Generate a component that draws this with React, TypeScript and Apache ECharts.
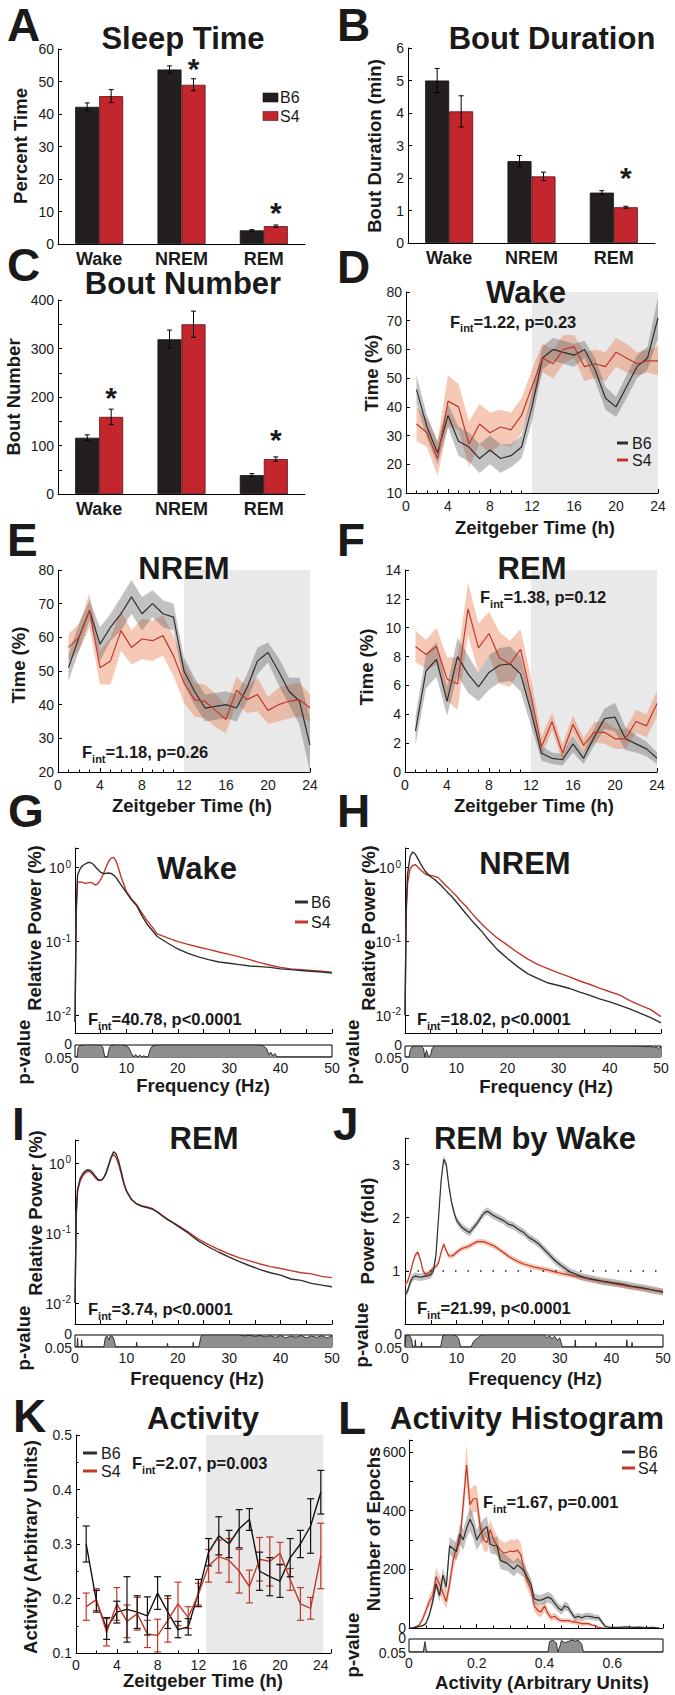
import React, { useEffect, useRef } from 'react';
import * as echarts from 'echarts';

const FONT = '"Liberation Sans", Arial, Helvetica, sans-serif';
const INK = '#1a1a1a';
const BAR_B6 = '#231f20';
const BAR_S4 = '#c4262e';
const LINE_B6 = '#2e2e2e';
const LINE_S4 = '#c0392b';
const BAND_B6 = 'rgba(95,95,95,0.38)';
const BAND_S4 = 'rgba(233,125,80,0.42)';
const SHADE = '#e9e9e9';
const STRIP_FILL = '#8f8f8f';
const TICK_FS = 14;

// ---------- A / B / C : bar charts ----------
const stageCats = ['Wake', 'NREM', 'REM'];
const sleepB6 = [42.2, 53.7, 4.2];
const sleepB6Se = [1.2, 1.1, 0.2];
const sleepS4 = [45.5, 49.0, 5.5];
const sleepS4Se = [2.0, 1.85, 0.35];
const sleepStars = [[1, 55.7], [2, 11.5]];
const durB6 = [5.0, 2.52, 1.55];
const durB6Se = [0.37, 0.17, 0.06];
const durS4 = [4.05, 2.05, 1.1];
const durS4Se = [0.48, 0.13, 0.03];
const durStars = [[2, 2.19]];
const numB6 = [116, 319, 39];
const numB6Se = [6, 19, 3];
const numS4 = [159, 350, 72];
const numS4Se = [16, 27, 4.5];
const numStars = [[0, 211], [2, 125]];

// ---------- D / E / F : hourly time courses ----------
const hours = [1, 2, 3, 4, 5, 6, 7, 8, 9, 10, 11, 12, 13, 14, 15, 16, 17, 18, 19, 20, 21, 22, 23, 24];
const wakeB6 = [46, 33, 24, 37, 28, 26, 22, 25, 22, 23, 26, 40, 57, 60, 59, 58, 60, 53, 43, 40, 47, 54, 57, 71];
const wakeB6Se = [5, 4, 4, 4, 5, 5, 5, 5, 5, 4, 4, 5, 4, 4, 4, 4, 3, 4, 4, 3.5, 4, 4, 4, 7];
const wakeS4 = [34, 31, 22, 42, 40, 27, 34, 31, 33, 32, 37, 47, 57, 55, 60, 61, 54, 55, 54, 59, 57, 55, 56, 56];
const wakeS4Se = [6, 5, 6, 9, 8, 8, 7, 7, 6, 6, 6, 6, 5, 5, 5, 4, 5, 5, 5, 5, 5, 4, 4, 5];
const nremB6 = [51, 60, 68, 58, 63, 67, 72, 67, 70, 67, 66, 50, 44, 39, 39.5, 40, 39, 45, 53, 55.5, 50, 44, 41, 28];
const nremB6Se = [4, 4, 3, 5, 4, 5, 5, 5, 4, 4, 4, 4, 4, 4, 4, 4, 4, 4, 4, 3, 4, 4, 7, 8];
const nremS4 = [57, 60, 68, 51, 53, 62, 57, 59.5, 59, 60.5, 54.5, 46.5, 41.5, 41, 38.3, 35.6, 44.3, 41.5, 43, 38.3, 40, 41, 41.5, 39];
const nremS4Se = [4, 4, 5, 5, 7, 6, 5, 6, 6, 6, 6, 6, 5, 5, 5, 4, 4, 4, 5, 4, 5, 5, 5, 4];
const remB6 = [2.85, 7.0, 7.8, 4.9, 8.0, 6.8, 5.9, 6.9, 7.4, 7.5, 6.8, 4.2, 1.3, 0.95, 0.85, 1.95, 0.95, 2.4, 3.7, 3.8, 2.3, 1.95, 1.6, 0.95];
const remB6Se = [1.0, 1.2, 1.2, 1.0, 1.3, 1.3, 1.0, 1.2, 1.2, 1.2, 1.2, 1.0, 0.5, 0.4, 0.4, 0.6, 0.4, 0.6, 0.7, 1.0, 0.8, 0.6, 0.5, 0.4];
const remS4 = [8.7, 8.15, 8.7, 6.45, 6.1, 11.3, 8.6, 9.6, 7.9, 7.5, 8.5, 5.3, 1.75, 3.5, 1.3, 3.3, 1.85, 2.75, 2.75, 2.3, 2.3, 3.5, 3.2, 4.75];
const remS4Se = [1.1, 1.0, 1.3, 1.5, 1.8, 1.8, 1.7, 1.5, 1.8, 1.6, 1.4, 1.2, 0.7, 0.6, 0.6, 0.6, 0.5, 0.7, 0.8, 0.7, 0.7, 0.8, 0.8, 0.9];

// ---------- G / H : spectra ----------
const specFreq = [0, 0.25, 0.5, 1, 1.5, 2, 2.5, 3, 3.5, 4, 4.5, 5, 5.5, 6, 6.5, 7, 7.5, 8, 8.5, 9, 10, 11, 12, 13, 14, 15, 16, 18, 20, 22, 24, 26, 28, 30, 32, 34, 36, 38, 40, 42, 44, 46, 48, 50];
const wakePowB6 = [0.008, 0.3, 0.78, 0.95, 1.05, 1.1, 1.15, 1.15, 1.1, 1.0, 0.92, 0.85, 0.82, 0.82, 0.83, 0.82, 0.78, 0.72, 0.64, 0.57, 0.45, 0.36, 0.3, 0.22, 0.17, 0.14, 0.115, 0.094, 0.078, 0.068, 0.061, 0.056, 0.052, 0.05, 0.048, 0.046, 0.045, 0.044, 0.042, 0.041, 0.04, 0.039, 0.038, 0.037];
const wakePowS4 = [0.008, 0.25, 0.62, 0.63, 0.62, 0.6, 0.61, 0.62, 0.6, 0.57, 0.6, 0.68, 0.8, 0.98, 1.18, 1.32, 1.35, 1.2, 0.95, 0.72, 0.47, 0.37, 0.31, 0.24, 0.19, 0.155, 0.125, 0.11, 0.098, 0.09, 0.083, 0.077, 0.071, 0.066, 0.061, 0.056, 0.051, 0.047, 0.044, 0.042, 0.041, 0.04, 0.039, 0.038];
const nremPowB6 = [0.01, 0.3, 0.8, 1.4, 1.6, 1.5, 1.3, 1.12, 0.98, 0.87, 0.8, 0.74, 0.7, 0.66, 0.61, 0.57, 0.52, 0.48, 0.44, 0.41, 0.34, 0.28, 0.23, 0.19, 0.16, 0.135, 0.11, 0.077, 0.058, 0.045, 0.036, 0.031, 0.027, 0.025, 0.023, 0.0205, 0.0185, 0.0165, 0.015, 0.0135, 0.012, 0.0105, 0.0092, 0.0078];
const nremPowS4 = [0.01, 0.25, 0.6, 0.95, 1.05, 1.08, 1.0, 0.92, 0.86, 0.8, 0.78, 0.77, 0.76, 0.74, 0.72, 0.66, 0.61, 0.56, 0.52, 0.48, 0.41, 0.34, 0.29, 0.24, 0.2, 0.17, 0.145, 0.11, 0.088, 0.07, 0.057, 0.048, 0.042, 0.037, 0.033, 0.029, 0.026, 0.023, 0.0206, 0.0185, 0.0155, 0.0135, 0.0118, 0.0095];

// ---------- I : REM spectra ----------
const remFreq = [0, 0.25, 0.5, 1, 1.5, 2, 2.5, 3, 3.5, 4, 4.5, 5, 5.5, 6, 6.5, 7, 7.5, 8, 8.5, 9, 9.5, 10, 11, 12, 13, 14, 15, 16, 17, 18, 19, 20, 22, 24, 26, 28, 30, 32, 34, 36, 38, 40, 42, 44, 46, 48, 50];
const remPowB6 = [0.01, 0.2, 0.42, 0.6, 0.7, 0.77, 0.8, 0.78, 0.72, 0.64, 0.58, 0.57, 0.6, 0.7, 0.9, 1.2, 1.45, 1.35, 1.05, 0.75, 0.52, 0.4, 0.3, 0.26, 0.24, 0.23, 0.22, 0.2, 0.175, 0.155, 0.14, 0.125, 0.1, 0.077, 0.063, 0.053, 0.045, 0.039, 0.034, 0.03, 0.027, 0.025, 0.022, 0.021, 0.019, 0.018, 0.017];
const remPowS4 = [0.01, 0.18, 0.4, 0.55, 0.65, 0.72, 0.76, 0.74, 0.68, 0.61, 0.56, 0.56, 0.6, 0.72, 0.92, 1.18, 1.32, 1.2, 0.95, 0.7, 0.5, 0.4, 0.3, 0.26, 0.245, 0.235, 0.225, 0.2, 0.178, 0.158, 0.143, 0.128, 0.104, 0.082, 0.068, 0.058, 0.05, 0.044, 0.04, 0.036, 0.033, 0.031, 0.029, 0.027, 0.026, 0.024, 0.023];

// ---------- J : REM by Wake ----------
const foldFreq = [0, 0.5, 1, 1.5, 2, 2.5, 3, 3.5, 4, 4.5, 5, 5.5, 6, 6.5, 7, 7.5, 8, 8.5, 9, 9.5, 10, 11, 12, 12.5, 13, 14, 15, 15.5, 16, 17, 18, 19, 20, 21, 22, 23, 24, 25, 26, 27, 28, 29, 30, 31, 32, 33, 34, 35, 36, 37, 38, 40, 42, 44, 46, 48, 50];
const foldB6 = [0.55, 0.62, 0.78, 0.88, 0.9, 0.89, 0.88, 0.89, 0.9, 0.91, 0.93, 1.0, 1.3, 2.0, 2.7, 3.1, 3.0, 2.6, 2.3, 2.1, 1.95, 1.82, 1.75, 1.72, 1.78, 1.9, 2.05, 2.1, 2.12, 2.05, 2.0, 1.95, 1.88, 1.85, 1.78, 1.72, 1.63, 1.57, 1.5, 1.4, 1.3, 1.2, 1.12, 1.05, 0.98, 0.94, 0.9, 0.87, 0.85, 0.83, 0.81, 0.78, 0.75, 0.71, 0.68, 0.64, 0.6];
const foldS4 = [0.75, 0.8, 0.95, 1.15, 1.3, 1.35, 1.2, 1.0, 0.93, 0.95, 1.0, 1.05, 1.08, 1.15, 1.35, 1.5, 1.38, 1.28, 1.28, 1.3, 1.35, 1.42, 1.45, 1.47, 1.5, 1.55, 1.55, 1.54, 1.52, 1.48, 1.42, 1.35, 1.28, 1.22, 1.17, 1.13, 1.1, 1.07, 1.05, 1.03, 1.01, 0.98, 0.96, 0.94, 0.92, 0.9, 0.88, 0.86, 0.84, 0.82, 0.8, 0.77, 0.73, 0.7, 0.67, 0.64, 0.61];
const FOLD_B6_SE = 0.07;
const FOLD_S4_SE = 0.05;

// ---------- p-value strips ----------
const stripTicks = ['0', '0.05'];
const gStripF = [0, 0.4, 0.6, 1, 2, 3, 4, 5, 5.4, 5.8, 6.3, 6.7, 7, 8, 9, 10, 10.5, 11, 11.4, 11.8, 12.2, 12.6, 13, 13.4, 13.8, 14.2, 14.6, 15, 16, 20, 25, 30, 35, 36.5, 37.3, 37.7, 38.1, 38.5, 38.9, 39.3, 40, 50];
const gStripP = [0.05, 0.05, 0.01, 0.002, 0, 0, 0, 0.001, 0.008, 0.05, 0.05, 0.01, 0.002, 0, 0, 0.003, 0.012, 0.035, 0.05, 0.04, 0.05, 0.042, 0.05, 0.045, 0.05, 0.05, 0.02, 0.005, 0, 0, 0, 0, 0, 0.002, 0.015, 0.04, 0.03, 0.045, 0.035, 0.05, 0.05, 0.05];
const hStripF = [0, 0.8, 1.0, 1.3, 1.8, 2.5, 3.2, 3.6, 3.9, 4.2, 4.6, 5.0, 5.3, 5.6, 6, 10, 20, 30, 40, 46, 47, 48, 48.5, 49, 49.5, 50];
const hStripP = [0.05, 0.05, 0.02, 0.006, 0.001, 0, 0.002, 0.01, 0.05, 0.02, 0.05, 0.04, 0.012, 0.002, 0, 0, 0, 0, 0, 0.001, 0.003, 0.002, 0.008, 0.004, 0.01, 0.006];
const iStripF = [0, 0.4, 0.5, 0.6, 1.2, 1.3, 1.4, 5.6, 5.9, 6.2, 6.6, 6.9, 7.3, 7.6, 7.9, 11.9, 12.0, 12.1, 17.9, 18.0, 18.1, 22.9, 23.0, 23.1, 24.1, 24.5, 25, 32, 33, 34, 35, 36, 37, 38, 39, 40, 41, 42, 43, 44, 45, 46, 47, 48, 49, 50];
const iStripP = [0.05, 0.05, 0.012, 0.05, 0.05, 0.02, 0.05, 0.05, 0.01, 0.004, 0.02, 0.003, 0.006, 0.02, 0.05, 0.05, 0.03, 0.05, 0.05, 0.035, 0.05, 0.05, 0.03, 0.05, 0.05, 0.006, 0, 0, 0.004, 0.001, 0.006, 0.002, 0.008, 0.003, 0.01, 0.002, 0.012, 0.004, 0.009, 0.002, 0.012, 0.004, 0.01, 0.003, 0.012, 0.004];
const jStripF = [0, 0.2, 0.6, 1.0, 1.3, 1.5, 1.9, 2.0, 2.1, 3.1, 3.2, 3.3, 6.9, 7.3, 8, 9.5, 10, 10.4, 10.8, 12.8, 13.2, 13.6, 14.1, 14.6, 15, 20, 27, 27.5, 28, 28.5, 29, 29.5, 30, 30.5, 32.9, 33.0, 33.1, 36.9, 37.0, 37.1, 42.9, 43.0, 43.1, 43.9, 44.0, 44.1, 50];
const jStripP = [0.05, 0.004, 0.001, 0.006, 0.02, 0.05, 0.05, 0.02, 0.05, 0.05, 0.03, 0.05, 0.05, 0.004, 0, 0, 0.004, 0.015, 0.05, 0.05, 0.03, 0.02, 0.012, 0.004, 0, 0, 0, 0.012, 0.003, 0.016, 0.005, 0.022, 0.012, 0.05, 0.05, 0.02, 0.05, 0.05, 0.03, 0.05, 0.05, 0.02, 0.05, 0.05, 0.03, 0.05, 0.05];
const lStripX = [0, 0.042, 0.047, 0.052, 0.41, 0.415, 0.425, 0.435, 0.44, 0.445, 0.45, 0.46, 0.47, 0.48, 0.49, 0.5, 0.51, 0.515, 0.75];
const lStripP = [0.05, 0.05, 0.01, 0.05, 0.05, 0.01, 0.004, 0.015, 0.05, 0.03, 0.006, 0.014, 0.01, 0.004, 0.008, 0.005, 0.02, 0.05, 0.05];

// ---------- K : activity ----------
const actB6 = [0.30, 0.195, 0.145, 0.175, 0.18, 0.175, 0.168, 0.21, 0.175, 0.143, 0.148, 0.21, 0.285, 0.315, 0.30, 0.328, 0.345, 0.25, 0.24, 0.232, 0.275, 0.30, 0.333, 0.395];
const actB6Se = [0.033, 0.02, 0.02, 0.02, 0.06, 0.03, 0.035, 0.03, 0.03, 0.015, 0.015, 0.025, 0.025, 0.035, 0.025, 0.035, 0.02, 0.035, 0.035, 0.03, 0.035, 0.025, 0.05, 0.04];
const actS4 = [0.185, 0.198, 0.138, 0.19, 0.158, 0.172, 0.135, 0.132, 0.16, 0.19, 0.165, 0.208, 0.26, 0.277, 0.27, 0.25, 0.222, 0.272, 0.268, 0.283, 0.235, 0.19, 0.182, 0.278];
const actS4Se = [0.025, 0.02, 0.025, 0.03, 0.03, 0.03, 0.025, 0.03, 0.04, 0.04, 0.02, 0.02, 0.03, 0.03, 0.04, 0.04, 0.03, 0.04, 0.045, 0.02, 0.02, 0.03, 0.02, 0.06];

// ---------- L : activity histogram ----------
const histX = [0, 0.01, 0.02, 0.03, 0.04, 0.05, 0.06, 0.07, 0.08, 0.09, 0.1, 0.11, 0.12, 0.13, 0.14, 0.15, 0.16, 0.17, 0.18, 0.19, 0.2, 0.21, 0.22, 0.23, 0.24, 0.25, 0.26, 0.27, 0.28, 0.29, 0.3, 0.31, 0.32, 0.33, 0.34, 0.35, 0.36, 0.37, 0.38, 0.39, 0.4, 0.41, 0.42, 0.43, 0.44, 0.45, 0.46, 0.47, 0.48, 0.49, 0.5, 0.51, 0.52, 0.53, 0.54, 0.55, 0.56, 0.57, 0.58, 0.59, 0.6, 0.62, 0.64, 0.66, 0.68, 0.7, 0.72, 0.74];
const histB6 = [0, 0, 2, 5, 8, 15, 45, 90, 150, 110, 180, 140, 280, 270, 260, 320, 300, 340, 370, 345, 300, 320, 335, 345, 285, 280, 280, 230, 225, 220, 210, 200, 215, 205, 195, 170, 150, 100, 95, 95, 100, 105, 100, 85, 70, 60, 75, 70, 50, 35, 40, 35, 40, 40, 38, 35, 35, 20, 5, 3, 2, 2, 4, 2, 3, 1, 2, 0];
const histB6Se = [0, 1, 2, 3, 4, 6, 10, 15, 20, 20, 25, 25, 30, 30, 30, 35, 35, 35, 40, 40, 35, 35, 35, 35, 30, 30, 30, 28, 28, 25, 25, 25, 25, 25, 22, 22, 20, 18, 18, 18, 18, 18, 18, 16, 15, 15, 15, 14, 12, 12, 12, 12, 12, 12, 12, 10, 10, 8, 5, 3, 2, 2, 2, 2, 2, 1, 1, 0];
const histS4 = [0, 0, 5, 10, 30, 60, 90, 110, 175, 150, 120, 90, 150, 230, 270, 290, 420, 555, 420, 440, 440, 345, 300, 290, 335, 300, 280, 265, 255, 258, 262, 260, 265, 250, 195, 160, 130, 75, 60, 55, 75, 50, 35, 40, 30, 25, 25, 25, 22, 20, 18, 15, 15, 15, 10, 8, 2, 0, 0];
const histS4Se = [0, 1, 3, 5, 10, 15, 20, 25, 30, 30, 30, 25, 30, 35, 35, 35, 45, 70, 50, 45, 45, 40, 35, 35, 35, 35, 35, 35, 35, 35, 40, 40, 40, 40, 35, 30, 25, 20, 18, 18, 20, 15, 12, 12, 10, 8, 8, 8, 8, 8, 8, 8, 8, 6, 5, 4, 2, 1, 0];

function buildOption(): any {
  const grid: any[] = [];
  const xAxis: any[] = [];
  const yAxis: any[] = [];
  const series: any[] = [];
  const graphic: any[] = [];

  const axLine = { show: true, onZero: false, lineStyle: { color: '#000', width: 1 } };
  const axTick = { show: true, inside: true, length: 4, lineStyle: { color: '#000', width: 1 } };
  const minorTick = (n: number) => ({ show: true, splitNumber: n, length: 2.5, lineStyle: { color: '#000', width: 1 } });
  const lab = (extra: any = {}) => ({ color: INK, fontSize: TICK_FS, fontFamily: FONT, ...extra });
  const noSplit = { show: false };
  const on = (gi: number) => ({ xAxisIndex: gi, yAxisIndex: gi });

  const T = (x: number, y: number, text: string, size: number, weight = 'normal', align = 'left', rotation = 0) => ({
    type: 'text', x, y, rotation, silent: true, z: 100,
    style: { text, fontSize: size, fontWeight: weight, fontFamily: FONT, fill: INK, align, verticalAlign: 'middle',
      textAlign: align, textVerticalAlign: 'middle' },
  });

  const addGrid = (left: number, top: number, width: number, height: number, box = false) => {
    grid.push({ left, top, width, height, show: box, borderColor: '#000', borderWidth: 1, backgroundColor: 'transparent' });
    return grid.length - 1;
  };

  const lineS = (gi: number, xs: number[], ys: number[], color: string, width = 1.2, extra: any = {}) => ({
    type: 'line', ...on(gi), data: xs.map((x, i) => [x, ys[i]]), showSymbol: false, symbol: 'none',
    lineStyle: { color, width }, itemStyle: { color }, silent: true, z: 4, clip: true, ...extra,
  });

  const bandS = (gi: number, xs: number[], lo: number[], hi: number[], color: string) => {
    const rows = xs.map((x, i) => [x, lo[i], hi[i]]);
    return {
      type: 'custom', ...on(gi), z: 2, silent: true, clip: true,
      data: rows, encode: { x: 0, y: [1, 2] },
      renderItem: (params: any, api: any) => {
        if (params.dataIndex !== 0) return null;
        const up = rows.map((r) => api.coord([r[0], r[2]]));
        const dn = rows.slice().reverse().map((r) => api.coord([r[0], r[1]]));
        return { type: 'polygon', shape: { points: up.concat(dn) }, style: { fill: color } };
      },
    };
  };

  const shadeArea = (a: number, b: number) => ({
    silent: true, itemStyle: { color: SHADE }, label: { show: false },
    data: [[{ xAxis: a }, { xAxis: b }]],
  });

  const barErr = (gi: number, vals: number[], ses: number[], dx: number) => ({
    type: 'custom', ...on(gi), z: 5, silent: true,
    data: vals.map((v, i) => [i, v, ses[i]]), encode: { x: 0, y: 1 },
    renderItem: (p: any, api: any) => {
      const c = api.value(0), m = api.value(1), s = api.value(2);
      const a = api.coord([c, m + s]);
      const b = api.coord([c, m - s]);
      const x = a[0] + dx;
      const st = { stroke: '#000', lineWidth: 1 };
      return {
        type: 'group', children: [
          { type: 'line', shape: { x1: x, y1: a[1], x2: x, y2: b[1] }, style: st },
          { type: 'line', shape: { x1: x - 2.5, y1: a[1], x2: x + 2.5, y2: a[1] }, style: st },
          { type: 'line', shape: { x1: x - 2.5, y1: b[1], x2: x + 2.5, y2: b[1] }, style: st },
        ],
      };
    },
  });

  const starS = (gi: number, stars: number[][]) => ({
    type: 'custom', ...on(gi), z: 6, silent: true,
    data: stars, encode: { x: 0, y: 1 },
    renderItem: (p: any, api: any) => {
      const pt = api.coord([api.value(0), api.value(1)]);
      return {
        type: 'text', x: pt[0] + 12, y: pt[1] + 6,
        style: { text: '*', fontSize: 30, fontWeight: 'bold', fontFamily: FONT, fill: INK, align: 'center', verticalAlign: 'middle' },
      };
    },
  });

  const errBars = (gi: number, xs: number[], ys: number[], se: number[], color: string) => ({
    type: 'custom', ...on(gi), z: 5, silent: true,
    data: xs.map((x, i) => [x, ys[i], se[i]]), encode: { x: 0, y: 1 },
    renderItem: (p: any, api: any) => {
      const x = api.value(0), m = api.value(1), s = api.value(2);
      const a = api.coord([x, m + s]);
      const b = api.coord([x, m - s]);
      const st = { stroke: color, lineWidth: 1.2 };
      return {
        type: 'group', children: [
          { type: 'line', shape: { x1: a[0], y1: a[1], x2: b[0], y2: b[1] }, style: st },
          { type: 'line', shape: { x1: a[0] - 3.5, y1: a[1], x2: a[0] + 3.5, y2: a[1] }, style: st },
          { type: 'line', shape: { x1: b[0] - 3.5, y1: b[1], x2: b[0] + 3.5, y2: b[1] }, style: st },
        ],
      };
    },
  });

  // ---- bar panels
  const barPanel = (gi: number, yMax: number, yInt: number, fmt: any, b6: number[], b6se: number[], s4: number[], s4se: number[], stars: number[][]) => {
    xAxis.push({ gridIndex: gi, type: 'category', data: stageCats, axisLine: axLine, axisTick: { show: false },
      axisLabel: lab({ fontSize: 18, fontWeight: 'bold', margin: 6, interval: 0 }), splitLine: noSplit });
    yAxis.push({ gridIndex: gi, type: 'value', min: 0, max: yMax, interval: yInt, axisLine: axLine, axisTick: axTick,
      axisLabel: lab({ margin: 4, formatter: fmt }), splitLine: noSplit });
    series.push({ type: 'bar', ...on(gi), data: b6, barWidth: 24, barGap: '0%', silent: true,
      itemStyle: { color: BAR_B6, borderColor: '#111', borderWidth: 0.8 } });
    series.push({ type: 'bar', ...on(gi), data: s4, barWidth: 24, barGap: '0%', silent: true,
      itemStyle: { color: BAR_S4, borderColor: '#5a1212', borderWidth: 0.8 } });
    series.push(barErr(gi, b6, b6se, -12));
    series.push(barErr(gi, s4, s4se, 12));
    series.push(starS(gi, stars));
  };

  const gA = addGrid(58, 49, 247, 195);
  barPanel(gA, 60, 10, (v: number) => String(v), sleepB6, sleepB6Se, sleepS4, sleepS4Se, sleepStars);
  const gB = addGrid(408, 48, 247, 195);
  barPanel(gB, 6, 1, (v: number) => String(v), durB6, durB6Se, durS4, durS4Se, durStars);
  const gC = addGrid(58, 300, 247, 194);
  barPanel(gC, 400, 50, (v: number) => (v % 100 === 0 ? String(v) : ''), numB6, numB6Se, numS4, numS4Se, numStars);

  // ---- hourly panels
  const timePanel = (gi: number, yMin: number, yMax: number, yInt: number, b6: number[], b6se: number[], s4: number[], s4se: number[]) => {
    xAxis.push({ gridIndex: gi, type: 'value', min: 0, max: 24, interval: 4, axisLine: axLine, axisTick: axTick,
      minorTick: minorTick(4), axisLabel: lab({ margin: 6 }), splitLine: noSplit, minorSplitLine: noSplit });
    yAxis.push({ gridIndex: gi, type: 'value', min: yMin, max: yMax, interval: yInt, axisLine: axLine, axisTick: axTick,
      axisLabel: lab({ margin: 4 }), splitLine: noSplit });
    series.push(bandS(gi, hours, s4.map((v, i) => v - s4se[i]), s4.map((v, i) => v + s4se[i]), BAND_S4));
    series.push(bandS(gi, hours, b6.map((v, i) => v - b6se[i]), b6.map((v, i) => v + b6se[i]), BAND_B6));
    series.push(lineS(gi, hours, b6, LINE_B6, 1.2, { markArea: shadeArea(12, 24) }));
    series.push(lineS(gi, hours, s4, LINE_S4, 1.2));
  };
  const gD = addGrid(406, 292, 252, 201);
  timePanel(gD, 10, 80, 10, wakeB6, wakeB6Se, wakeS4, wakeS4Se);
  const gE = addGrid(58, 570, 252, 202);
  timePanel(gE, 20, 80, 10, nremB6, nremB6Se, nremS4, nremS4Se);
  const gF = addGrid(405, 570, 252, 202);
  timePanel(gF, 0, 14, 2, remB6, remB6Se, remS4, remS4Se);

  // ---- spectral panels
  const logFmt = (v: number) => {
    const e = Math.log10(v);
    const r = Math.round(e);
    if (Math.abs(e - r) > 1e-3) return '';
    return `{b|10}{s|${r}}`;
  };
  const logLabel = lab({
    margin: 4, formatter: logFmt,
    rich: {
      b: { fontSize: TICK_FS, fontFamily: FONT, color: INK, lineHeight: 16, verticalAlign: 'bottom' },
      s: { fontSize: 10, fontFamily: FONT, color: INK, lineHeight: 10, verticalAlign: 'top', padding: [0, 0, 6, 1] },
    },
  });
  const freqX = (gi: number) => ({ gridIndex: gi, type: 'value', min: 0, max: 50, interval: 5, axisLine: axLine,
    axisTick: axTick, axisLabel: { show: false }, splitLine: noSplit });
  const specPanel = (gi: number, yMin: number, yMax: number, xs: number[], b6: number[], s4: number[]) => {
    xAxis.push(freqX(gi));
    yAxis.push({ gridIndex: gi, type: 'log', logBase: 10, min: yMin, max: yMax, axisLine: axLine, axisTick: axTick,
      axisLabel: logLabel, splitLine: noSplit, minorSplitLine: noSplit });
    series.push(lineS(gi, xs, s4, LINE_S4, 1.4));
    series.push(lineS(gi, xs, b6, LINE_B6, 1.4));
  };
  const stripPanel = (left: number, top: number, width: number, height: number, xMax: number, xInt: number, xs: number[], ps: number[], fmt: any) => {
    const gi = addGrid(left, top, width, height, true);
    xAxis.push({ gridIndex: gi, type: 'value', min: 0, max: xMax, interval: xInt, axisLine: { show: false },
      axisTick: { show: false }, axisLabel: lab({ margin: 4, formatter: fmt, showMinLabel: true }), splitLine: noSplit });
    yAxis.push({ gridIndex: gi, type: 'value', inverse: true, min: 0, max: 0.05, interval: 0.05, axisLine: { show: false },
      axisTick: { show: false }, axisLabel: { show: false }, splitLine: noSplit });
    series.push({ type: 'line', ...on(gi), data: xs.map((x, i) => [x, ps[i]]), showSymbol: false, symbol: 'none',
      lineStyle: { color: '#111', width: 0.8 }, areaStyle: { color: STRIP_FILL, opacity: 1, origin: 'end' },
      silent: true, clip: true, z: 3 });
    graphic.push(T(left - 3, top - 1, stripTicks[0], TICK_FS, 'normal', 'right'));
    graphic.push(T(left - 3, top + height + 1, stripTicks[1], TICK_FS, 'normal', 'right'));
  };
  const hzFmt = (v: number) => String(v);

  const gG = addGrid(75, 848, 257, 185);
  specPanel(gG, 0.0057, 1.81, specFreq, wakePowB6, wakePowS4);
  stripPanel(75, 1045, 257, 12, 50, 10, gStripF, gStripP, hzFmt);

  const gH = addGrid(405, 848, 256, 185);
  specPanel(gH, 0.0057, 1.81, specFreq, nremPowB6, nremPowS4);
  stripPanel(405, 1046, 256, 11, 50, 10, hStripF, hStripP, hzFmt);

  const gI = addGrid(75, 1140, 257, 184);
  specPanel(gI, 0.005, 2.13, remFreq, remPowB6, remPowS4);
  stripPanel(75, 1335, 257, 12, 50, 10, iStripF, iStripP, hzFmt);

  const gJ = addGrid(405, 1138, 258, 186);
  xAxis.push(freqX(gJ));
  yAxis.push({ gridIndex: gJ, type: 'value', min: 0, max: 3.5, interval: 1, axisLine: axLine, axisTick: axTick,
    axisLabel: lab({ margin: 5, formatter: (v: number) => (v >= 1 && v <= 3 && Number.isInteger(v) ? String(v) : '') }), splitLine: noSplit });
  series.push(bandS(gJ, foldFreq, foldS4.map((v) => v - FOLD_S4_SE), foldS4.map((v) => v + FOLD_S4_SE), BAND_S4));
  series.push(bandS(gJ, foldFreq, foldB6.map((v) => v - FOLD_B6_SE), foldB6.map((v) => v + FOLD_B6_SE), BAND_B6));
  series.push(lineS(gJ, foldFreq, foldS4, LINE_S4, 1.2));
  series.push(lineS(gJ, foldFreq, foldB6, LINE_B6, 1.2, {
    markLine: { silent: true, symbol: 'none', label: { show: false },
      lineStyle: { type: [1.5, 11], color: '#222', width: 1.5 }, data: [{ yAxis: 1 }] },
  }));
  stripPanel(405, 1335, 258, 12, 50, 10, jStripF, jStripP, hzFmt);

  // ---- K activity
  const gK = addGrid(76, 1435, 255, 218);
  xAxis.push({ gridIndex: gK, type: 'value', min: 0, max: 25, interval: 4, axisLine: axLine, axisTick: axTick,
    minorTick: minorTick(2), axisLabel: lab({ margin: 5, formatter: (v: number) => (v <= 24 ? String(v) : '') }), splitLine: noSplit, minorSplitLine: noSplit });
  yAxis.push({ gridIndex: gK, type: 'value', min: 0.1, max: 0.5, interval: 0.1, axisLine: axLine, axisTick: axTick,
    minorTick: minorTick(2), axisLabel: lab({ margin: 4 }), splitLine: noSplit, minorSplitLine: noSplit });
  series.push(lineS(gK, hours, actB6, '#111', 1.4, { markArea: shadeArea(12.75, 24.25) }));
  series.push(lineS(gK, hours, actS4, LINE_S4, 1.4));
  series.push(errBars(gK, hours, actS4, actS4Se, LINE_S4));
  series.push(errBars(gK, hours, actB6, actB6Se, '#111'));

  // ---- L histogram
  const gL = addGrid(409, 1440, 254, 188);
  xAxis.push({ gridIndex: gL, type: 'value', min: 0, max: 0.75, interval: 0.2, axisLine: axLine, axisTick: axTick,
    minorTick: minorTick(4), axisLabel: { show: false }, splitLine: noSplit, minorSplitLine: noSplit });
  yAxis.push({ gridIndex: gL, type: 'value', min: 0, max: 640, interval: 100, axisLine: axLine, axisTick: axTick,
    axisLabel: lab({ margin: 3, formatter: (v: number) => (v % 200 === 0 ? String(v) : '') }), splitLine: noSplit });
  const hx4 = histX.slice(0, histS4.length);
  series.push(bandS(gL, hx4, histS4.map((v, i) => Math.max(0, v - histS4Se[i])), histS4.map((v, i) => v + histS4Se[i]), BAND_S4));
  series.push(bandS(gL, histX, histB6.map((v, i) => Math.max(0, v - histB6Se[i])), histB6.map((v, i) => v + histB6Se[i]), BAND_B6));
  series.push(lineS(gL, hx4, histS4, LINE_S4, 1.2));
  series.push(lineS(gL, histX, histB6, LINE_B6, 1.2));
  stripPanel(409, 1639, 254, 13, 0.75, 0.2, lStripX, lStripP, (v: number) => (v > 0.7 ? '' : String(Math.round(v * 10) / 10)));

  // ---- texts
  const letters: [string, number, number][] = [
    ['A', 7, 25], ['B', 337, 25], ['C', 7, 265], ['D', 337, 267], ['E', 7, 540], ['F', 337, 540],
    ['G', 8, 811], ['H', 337, 811], ['I', 12, 1124], ['J', 333, 1124], ['K', 13, 1416], ['L', 338, 1418],
  ];
  letters.forEach(([t, x, y]) => graphic.push(T(x, y, t, 46, 'bold', 'left')));
  const titles: [string, number, number][] = [
    ['Sleep Time', 183, 38], ['Bout Duration', 552, 38], ['Bout Number', 183, 283], ['Wake', 526, 292],
    ['NREM', 184, 568], ['REM', 532, 568], ['Wake', 197, 868], ['NREM', 525, 863], ['REM', 204, 1138],
    ['REM by Wake', 535, 1138], ['Activity', 203, 1418], ['Activity Histogram', 527, 1418],
  ];
  titles.forEach(([t, x, y]) => graphic.push(T(x, y, t, 31, 'bold', 'center')));
  const yNames: [string, number, number][] = [
    ['Percent Time', 20, 146], ['Bout Duration (min)', 374, 146], ['Bout Number', 13, 397], ['Time (%)', 371, 373],
    ['Time (%)', 18, 665], ['Time (%)', 366, 667], ['Relative Power (%)', 34, 928], ['p-value', 23, 1052],
    ['Relative Power (%)', 368, 928], ['p-value', 352, 1052], ['Relative Power (%)', 35, 1213], ['p-value', 23, 1338],
    ['Power (fold)', 367, 1231], ['p-value', 361, 1335], ['Activity (Arbitrary Units)', 30, 1547],
    ['Number of Epochs', 373, 1529], ['p-value', 352, 1645],
  ];
  yNames.forEach(([t, x, y]) => graphic.push(T(x, y, t, 18.5, 'bold', 'center', Math.PI / 2)));
  const xNames: [string, number, number][] = [
    ['Zeitgeber Time (h)', 535, 527], ['Zeitgeber Time (h)', 192, 805], ['Zeitgeber Time (h)', 534, 805],
    ['Frequency (Hz)', 203, 1085], ['Frequency (Hz)', 546, 1086], ['Frequency (Hz)', 197, 1378],
    ['Frequency (Hz)', 535, 1378], ['Zeitgeber Time (h)', 203, 1680], ['Activity (Arbitrary Units)', 542, 1682],
  ];
  xNames.forEach(([t, x, y]) => graphic.push(T(x, y, t, 18.5, 'bold', 'center')));

  const annots: [string, number, number][] = [
    ['=1.22, p=0.23', 450, 321.5], ['=1.18, p=0.26', 82, 752], ['=1.38, p=0.12', 480, 597],
    ['=40.78, p<0.0001', 88, 1019], ['=18.02, p<0.0001', 417, 1019], ['=3.74, p<0.0001', 88, 1309],
    ['=21.99, p<0.0001', 417, 1308], ['=2.07, p=0.003', 132, 1463], ['=1.67, p=0.001', 483, 1502],
  ];
  annots.forEach(([t, x, y]) => graphic.push({
    type: 'text', x, y, silent: true, z: 100,
    style: {
      text: `{a|F}{b|int}{a|${t}}`, align: 'left', verticalAlign: 'middle',
      rich: {
        a: { fontSize: 16.5, fontWeight: 'bold', fontFamily: FONT, fill: INK, color: INK, lineHeight: 24 },
        b: { fontSize: 11, fontWeight: 'bold', fontFamily: FONT, fill: INK, color: INK, lineHeight: 12, verticalAlign: 'bottom' },
      },
    },
  }));

  // legends
  graphic.push({ type: 'rect', shape: { x: 263, y: 93, width: 15, height: 9 }, style: { fill: BAR_B6, stroke: '#111', lineWidth: 0.6 }, z: 100, silent: true });
  graphic.push({ type: 'rect', shape: { x: 263, y: 111.5, width: 15, height: 9 }, style: { fill: BAR_S4, stroke: '#5a1212', lineWidth: 0.6 }, z: 100, silent: true });
  graphic.push(T(280, 97.5, 'B6', 16));
  graphic.push(T(280, 116, 'S4', 16));
  const lineLegend = (x1: number, x2: number, y1: number, y2: number, tx: number) => {
    graphic.push({ type: 'line', shape: { x1, y1, x2, y2: y1 }, style: { stroke: LINE_B6, lineWidth: 3 }, z: 100, silent: true });
    graphic.push({ type: 'line', shape: { x1, y1: y2, x2, y2 }, style: { stroke: LINE_S4, lineWidth: 3 }, z: 100, silent: true });
    graphic.push(T(tx, y1, 'B6', 16));
    graphic.push(T(tx, y2, 'S4', 16));
  };
  lineLegend(617, 628, 443, 460, 632);
  lineLegend(295, 308, 902, 922, 311);
  lineLegend(83, 97, 1453, 1471, 101);
  lineLegend(622, 635, 1452, 1468, 638);

  return {
    animation: false,
    backgroundColor: '#ffffff',
    grid, xAxis, yAxis, series, graphic,
  };
}

export default function App() {
  const ref = useRef<HTMLDivElement>(null);
  useEffect(() => {
    if (!ref.current) return;
    const chart = echarts.init(ref.current, undefined, { renderer: 'svg' });
    chart.setOption(buildOption());
    return () => chart.dispose();
  }, []);
  return (
    <div
      ref={ref}
      style={{ position: 'absolute', left: 0, top: 0, width: 675, height: 1695, background: '#ffffff' }}
    />
  );
}
